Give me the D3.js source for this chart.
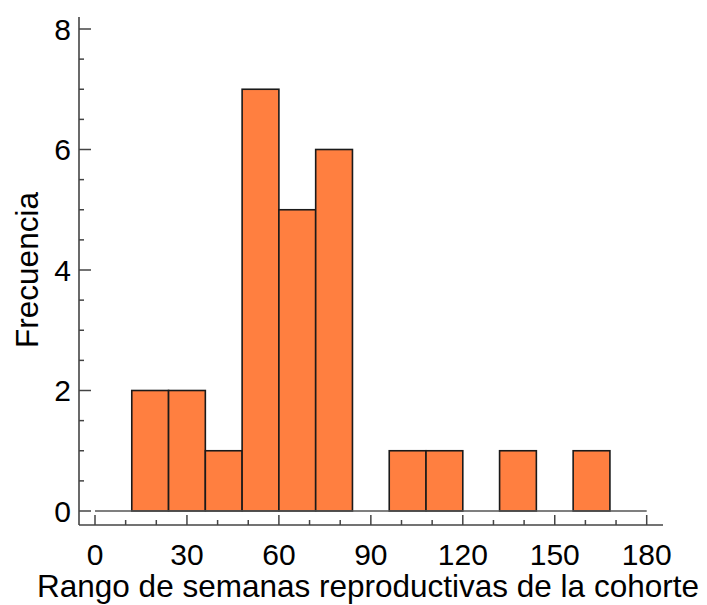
<!DOCTYPE html>
<html>
<head>
<meta charset="utf-8">
<script src="https://cdn.jsdelivr.net/npm/d3@7"></script>
<style>
  body { margin: 0; background: #fff; }
  text { font-family: "Liberation Sans", Arial, sans-serif; fill: #000; }
</style>
</head>
<body>
<div id="chart"></div>
<script>
// histogram bins (lower edge, upper edge) and counts
const binStart = [12, 24, 36, 48, 60, 72, 84, 96, 108, 120, 132, 144, 156];
const binEnd   = [24, 36, 48, 60, 72, 84, 96, 108, 120, 132, 144, 156, 168];
const counts   = [2, 2, 1, 7, 5, 6, 0, 1, 1, 0, 1, 0, 1];
const xTicks = [0, 30, 60, 90, 120, 150, 180];
const yTicks = [0, 2, 4, 6, 8];
const xLabel = "Rango de semanas reproductivas de la cohorte";
const yLabel = "Frecuencia";

const W = 707, H = 605;
const svg = d3.select("#chart").append("svg")
  .attr("width", W).attr("height", H);

let x = d3.scaleLinear().domain([0, 180]).range([95, 646.7]);
let y = d3.scaleLinear().domain([0, 8]).range([511, 29]);

const axisX = 79, axisY = 525;

// bars
let bins = binStart.map(function(s, i) { return {x0: s, x1: binEnd[i], n: counts[i]}; });
svg.append("g").selectAll("rect")
  .data(bins.filter(function(d) { return d.n > 0; }))
  .enter().append("rect")
  .attr("x", function(d) { return x(d.x0); })
  .attr("y", function(d) { return y(d.n); })
  .attr("width", function(d) { return x(d.x1) - x(d.x0); })
  .attr("height", function(d) { return y(0) - y(d.n); })
  .attr("fill", "#ff7f40")
  .attr("stroke", "#1a1a1a")
  .attr("stroke-width", 1.6);

// zero baseline
svg.append("line")
  .attr("x1", x(0)).attr("x2", x(180))
  .attr("y1", y(0)).attr("y2", y(0))
  .attr("stroke", "#555").attr("stroke-width", 1.6);

// axis lines
svg.append("line")
  .attr("x1", axisX).attr("x2", axisX).attr("y1", 17).attr("y2", axisY)
  .attr("stroke", "#444").attr("stroke-width", 1.6);
svg.append("line")
  .attr("x1", axisX).attr("x2", 663).attr("y1", axisY).attr("y2", axisY)
  .attr("stroke", "#444").attr("stroke-width", 1.6);

// y ticks (major labelled, minor every 0.5)
let yMinor = d3.range(0, 8.01, 0.5).filter(function(v) { return yTicks.indexOf(v) < 0; });
svg.append("g").selectAll("line.ymin").data(yMinor).enter().append("line")
  .attr("x1", axisX).attr("x2", axisX + 5)
  .attr("y1", function(d) { return y(d); }).attr("y2", function(d) { return y(d); })
  .attr("stroke", "#444").attr("stroke-width", 1.5);
svg.append("g").selectAll("line.ymaj").data(yTicks).enter().append("line")
  .attr("x1", axisX).attr("x2", axisX + 12)
  .attr("y1", function(d) { return y(d); }).attr("y2", function(d) { return y(d); })
  .attr("stroke", "#444").attr("stroke-width", 1.5);
svg.append("g").selectAll("text").data(yTicks).enter().append("text")
  .attr("x", 71).attr("y", function(d) { return y(d); })
  .attr("dy", "0.36em")
  .attr("text-anchor", "end")
  .style("font-size", "30px")
  .text(function(d) { return d; });

// x ticks (major labelled, minor every 10)
let xMinor = d3.range(0, 181, 10).filter(function(v) { return xTicks.indexOf(v) < 0; });
svg.append("g").selectAll("line.xmin").data(xMinor).enter().append("line")
  .attr("x1", function(d) { return x(d); }).attr("x2", function(d) { return x(d); })
  .attr("y1", axisY).attr("y2", axisY - 5)
  .attr("stroke", "#444").attr("stroke-width", 1.5);
svg.append("g").selectAll("line.xmaj").data(xTicks).enter().append("line")
  .attr("x1", function(d) { return x(d); }).attr("x2", function(d) { return x(d); })
  .attr("y1", axisY).attr("y2", axisY - 10)
  .attr("stroke", "#444").attr("stroke-width", 1.5);
svg.append("g").selectAll("text").data(xTicks).enter().append("text")
  .attr("x", function(d) { return x(d); }).attr("y", 565)
  .attr("text-anchor", "middle")
  .style("font-size", "30px")
  .text(function(d) { return d; });

// axis titles
svg.append("text")
  .attr("x", 368).attr("y", 597)
  .attr("text-anchor", "middle")
  .style("font-size", "31.5px")
  .text(xLabel);

svg.append("text")
  .attr("transform", "translate(38," + ((y(0) + y(8)) / 2) + ") rotate(-90)")
  .attr("text-anchor", "middle")
  .style("font-size", "31.5px")
  .text(yLabel);
</script>
</body>
</html>
